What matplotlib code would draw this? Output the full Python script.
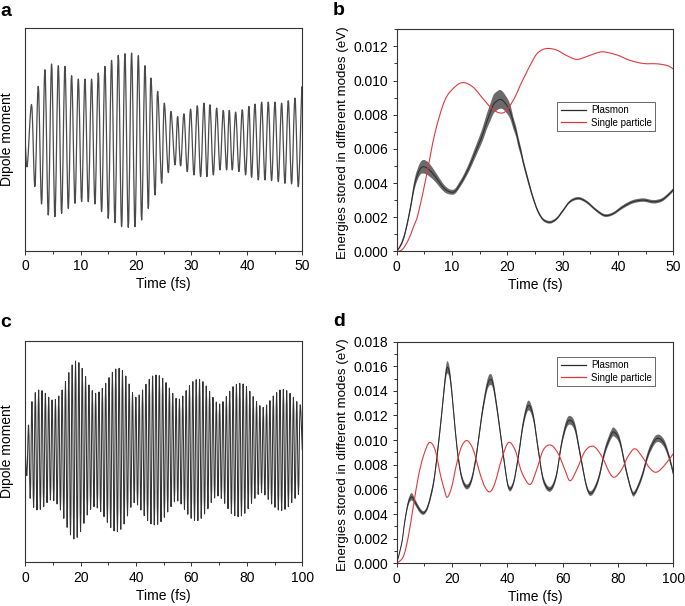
import numpy as np
import matplotlib
matplotlib.use("Agg")
import matplotlib.pyplot as plt
from matplotlib.ticker import MultipleLocator, FormatStrFormatter
from matplotlib.path import Path
from matplotlib.patches import PathPatch
from matplotlib.lines import Line2D

plt.rcParams['font.family'] = ['Liberation Sans', 'DejaVu Sans']

# ----------------------------
# Datos
# ----------------------------

# (a) momento dipolar, 0-50 fs: maximos y minimos de cada oscilacion
a_peak_t = [1.14, 2.35, 3.55, 4.75, 5.96, 7.16, 8.36, 9.57, 10.77, 11.97, 13.18, 14.38,
            15.58, 16.79, 17.99, 19.19, 20.40, 21.60, 22.68, 23.89, 25.09, 26.29, 27.50,
            28.64, 29.84, 31.05, 32.25, 33.33, 34.54, 35.74, 36.82, 37.97, 39.17, 40.37,
            41.46, 42.66, 43.86, 45.07, 46.27, 47.47, 48.68, 49.88]
a_peak_v = [1.05, 1.60, 2.10, 2.27, 2.22, 2.20, 1.92, 1.82, 1.82, 1.82, 2.00, 2.20,
            2.38, 2.53, 2.58, 2.60, 2.52, 2.22, 1.85, 1.45, 1.10, 0.85, 0.70,
            0.78, 0.92, 1.02, 1.10, 1.05, 0.95, 0.88, 0.88, 0.83, 0.90, 1.00,
            1.07, 1.13, 1.13, 1.13, 1.10, 1.17, 1.25, 1.40]
a_trough_t = [0.36, 1.74, 2.95, 4.15, 5.35, 6.56, 7.76, 8.97, 10.17, 11.37, 12.58, 13.78,
              14.98, 16.19, 17.39, 18.59, 19.80, 21.00, 22.20, 23.41, 24.61, 25.81, 27.02,
              28.04, 29.24, 30.45, 31.65, 32.79, 33.94, 35.14, 36.34, 37.36, 38.57, 39.77,
              40.85, 42.06, 43.26, 44.46, 45.67, 46.87, 48.07, 49.28]
a_trough_v = [-0.78, -1.40, -1.92, -2.25, -2.30, -2.20, -2.05, -1.90, -1.85, -1.85, -1.92, -2.15,
              -2.35, -2.48, -2.60, -2.62, -2.60, -2.40, -2.05, -1.65, -1.30, -0.98, -0.75,
              -0.78, -0.95, -1.05, -1.10, -1.10, -1.05, -0.90, -0.90, -0.90, -0.95, -1.05,
              -1.12, -1.20, -1.20, -1.22, -1.25, -1.30, -1.32, -1.40]
a_start = (0.0, -0.10)
a_end = (50.0, 1.35)

# (c) momento dipolar, 0-100 fs: amplitud de cada ciclo
c_first_peak = 1.2
c_period = 1.21
c_amp = [0.75, 1.45, 1.72, 1.80, 1.78, 1.70, 1.58, 1.50, 1.52, 1.62, 1.80, 2.05,
         2.32, 2.55, 2.67, 2.62, 2.45, 2.20, 1.95, 1.78, 1.70, 1.74, 1.85, 2.00,
         2.17, 2.33, 2.43, 2.45, 2.38, 2.22, 1.98, 1.72, 1.58, 1.65, 1.80, 1.97,
         2.12, 2.22, 2.25, 2.23, 2.15, 2.02, 1.86, 1.70, 1.55, 1.53, 1.62, 1.78,
         1.93, 2.05, 2.11, 2.12, 2.05, 1.92, 1.76, 1.58, 1.44, 1.38, 1.45, 1.60,
         1.76, 1.90, 1.97, 2.00, 1.98, 1.90, 1.76, 1.60, 1.45, 1.33, 1.28, 1.35,
         1.48, 1.62, 1.72, 1.80, 1.82, 1.78, 1.70, 1.58, 1.45, 1.33]

# (b) energias, 0-50 fs
b_sp_t = [0, 1.0, 2.1, 3.0, 3.9, 5.4, 6.9, 8.7, 10.5, 12.0, 13.8, 15.6, 17.2, 18.7, 19.9,
          21.4, 22.3, 23.2, 24.3, 25.3, 26.3, 27.4, 28.9, 30.7, 32.5, 34.3, 36.0, 37.4,
          39.8, 42.2, 44.6, 47.0, 48.9, 50.0]
b_sp_v = [0, 0.0001, 0.00066, 0.0014, 0.00222, 0.00446, 0.0069, 0.00884, 0.00962, 0.00988,
          0.00962, 0.00894, 0.00836, 0.0081, 0.00826, 0.00904, 0.0097, 0.0103, 0.0110,
          0.01155, 0.0118, 0.01188, 0.01179, 0.01147, 0.01124, 0.01140, 0.01160, 0.01168,
          0.01150, 0.01118, 0.01100, 0.01098, 0.01088, 0.01068]
b_pl_t = [0, 0.8, 1.5, 2.4, 3.3, 4.2, 4.9, 5.8, 6.9, 7.8, 8.7, 9.6, 10.5, 11.4, 12.3, 13.2,
          14.1, 15.0, 15.6, 16.3, 16.9, 17.5, 18.1, 18.7, 19.3, 20.2, 20.7, 21.1, 21.6, 22.0,
          22.5, 22.9, 23.8, 24.4, 25.0, 25.6, 26.5, 27.7, 28.9, 30.1, 31.3, 32.8, 34.3, 36.1,
          37.6, 39.1, 40.9, 42.7, 44.6, 46.4, 47.9, 49.1, 50.0]
b_pl_v = [0, 0.0004, 0.00105, 0.0024, 0.0040, 0.0048, 0.00495, 0.0048, 0.0044, 0.0040,
          0.00365, 0.00348, 0.0035, 0.0039, 0.0044, 0.0050, 0.0057, 0.0064, 0.0069, 0.0076,
          0.0081, 0.0086, 0.0088, 0.0089, 0.0088, 0.0084, 0.0080, 0.0075, 0.0070, 0.0064,
          0.0058, 0.0052, 0.0041, 0.0034, 0.0028, 0.0023, 0.00185, 0.0017, 0.0019, 0.0024,
          0.0029, 0.0031, 0.0029, 0.0024, 0.0021, 0.0022, 0.0026, 0.0029, 0.0030, 0.0029,
          0.0030, 0.0033, 0.0036]
b_pl_hw = [0, 0.0001, 0.00015, 0.0002, 0.0003, 0.00035, 0.0004, 0.00038, 0.0003, 0.00025,
           0.0002, 0.00015, 0.00015, 0.00018, 0.0002, 0.00025, 0.0003, 0.00035, 0.0004,
           0.00045, 0.0005, 0.00055, 0.00055, 0.00055, 0.0005, 0.00045, 0.0004, 0.00035,
           0.0003, 0.0003, 0.00025, 0.0002, 0.00018, 0.00015, 0.00012, 0.0001, 0.00008,
           0.00008, 0.00008, 0.00008, 0.00008, 0.00008, 0.00008, 0.00008, 0.00008, 0.00008,
           0.0001, 0.0001, 0.0001, 0.0001, 0.0001, 0.0001, 0.0001]

# (d) energias, 0-100 fs
d_sp_t = [0, 2.4, 4.2, 6.0, 7.8, 9.6, 11.8, 13.9, 15.7, 17.2, 18.3, 19.9, 21.7, 23.5, 25.5,
          27.7, 30.1, 31.9, 33.7, 35.5, 38.0, 40.4, 42.8, 45.2, 48.2, 50.6, 53.0, 55.7,
          58.4, 60.8, 62.7, 65.1, 68.1, 71.1, 74.1, 77.1, 78.9, 81.3, 83.7, 86.1, 88.6,
          91.6, 94.0, 97.0, 100.0]
d_sp_v = [0, 0.00054, 0.00217, 0.0046, 0.0070, 0.00866, 0.0098, 0.0092, 0.0073, 0.0060,
          0.00536, 0.0062, 0.0081, 0.0095, 0.00996, 0.0092, 0.0073, 0.0062, 0.0058, 0.0065,
          0.0085, 0.0098, 0.0092, 0.0074, 0.0064, 0.0076, 0.0092, 0.0096, 0.0089, 0.0076,
          0.0067, 0.0076, 0.0091, 0.0095, 0.0087, 0.0073, 0.0070, 0.0076, 0.0087, 0.0093,
          0.0087, 0.0077, 0.0074, 0.0080, 0.0089]
d_pl_t = [0, 1.8, 3.0, 4.2, 5.4, 6.6, 8.4, 9.9, 11.4, 13.3, 14.7, 16.3, 17.5, 18.3, 19.3,
          20.5, 21.9, 23.5, 25.3, 27.1, 28.9, 30.7, 32.5, 33.7, 34.9, 36.7, 38.6, 40.4,
          42.2, 44.0, 45.8, 47.6, 49.4, 51.2, 53.0, 55.4, 57.6, 59.6, 61.4, 62.9, 64.5,
          66.3, 68.7, 70.5, 72.9, 75.3, 77.7, 78.9, 80.7, 82.9, 84.9, 86.1, 88.6, 91.0,
          93.4, 95.2, 97.0, 98.8, 100.0]
d_pl_v = [0, 0.0016, 0.0035, 0.0049, 0.0054, 0.0050, 0.0043, 0.0041, 0.0047, 0.0065,
          0.0089, 0.0122, 0.0149, 0.0159, 0.0152, 0.0125, 0.0092, 0.0070, 0.0062, 0.0068,
          0.0089, 0.0119, 0.0142, 0.0149, 0.0145, 0.0119, 0.0087, 0.0062, 0.0065, 0.0087,
          0.0114, 0.0128, 0.0119, 0.0092, 0.0068, 0.0060, 0.0070, 0.0097, 0.0113, 0.0116,
          0.0110, 0.0089, 0.0062, 0.0057, 0.0068, 0.0091, 0.0105, 0.0106, 0.0099, 0.0076,
          0.0059, 0.0057, 0.0070, 0.0089, 0.0100, 0.0101, 0.0096, 0.0084, 0.0073]
d_pl_hw = [0, 0.0001, 0.0002, 0.00025, 0.0003, 0.00025, 0.0002, 0.00015, 0.0002, 0.0003,
           0.00035, 0.0004, 0.00045, 0.0005, 0.00045, 0.0004, 0.00035, 0.00025, 0.0002,
           0.00025, 0.0003, 0.00035, 0.0004, 0.00045, 0.0004, 0.00035, 0.0003, 0.0002,
           0.0002, 0.0003, 0.00035, 0.0004, 0.00035, 0.0003, 0.00025, 0.0002, 0.00025,
           0.0003, 0.00035, 0.00035, 0.00035, 0.0003, 0.0002, 0.0002, 0.00025, 0.0003,
           0.00035, 0.00035, 0.0003, 0.00025, 0.0002, 0.0002, 0.00025, 0.0003, 0.0003,
           0.0003, 0.0003, 0.00025, 0.00025]

BLACK = '#2a2a2a'
RED = '#e2383c'
FS = 10


# ----------------------------
# Funciones auxiliares
# ----------------------------

def smooth_verts(x, y):
    # curva Bezier (Catmull-Rom) que pasa por los puntos leidos
    x = np.asarray(x, float)
    y = np.asarray(y, float)
    xp = np.concatenate(([x[0]], x, [x[-1]]))
    yp = np.concatenate(([y[0]], y, [y[-1]]))
    verts = [(x[0], y[0])]
    codes = [Path.MOVETO]
    for i in range(len(x) - 1):
        c1 = (x[i] + (xp[i + 2] - xp[i]) / 6, y[i] + (yp[i + 2] - yp[i]) / 6)
        c2 = (x[i + 1] - (xp[i + 3] - xp[i + 1]) / 6, y[i + 1] - (yp[i + 3] - yp[i + 1]) / 6)
        verts += [c1, c2, (x[i + 1], y[i + 1])]
        codes += [Path.CURVE4] * 3
    return verts, codes


def smooth_line(ax, x, y, color, lw):
    verts, codes = smooth_verts(x, y)
    ax.add_patch(PathPatch(Path(verts, codes), fill=False, edgecolor=color, lw=lw,
                           capstyle='round', joinstyle='round'))


def smooth_band(ax, x, lo, hi, color):
    vu, cu = smooth_verts(x, hi)
    vl, cl = smooth_verts(x[::-1], lo[::-1])
    cl[0] = Path.LINETO
    verts = vu + vl + [vu[0]]
    codes = cu + cl + [Path.CLOSEPOLY]
    ax.add_patch(PathPatch(Path(verts, codes), facecolor=color, edgecolor='none'))


def style_axes(ax, xmax, xmajor, yaxis=True):
    for s in ax.spines.values():
        s.set_linewidth(0.8)
        s.set_color('#333333')
    ax.set_xlim(0, xmax)
    ax.xaxis.set_major_locator(MultipleLocator(xmajor))
    ax.xaxis.set_minor_locator(MultipleLocator(xmajor / 2))
    ax.tick_params(which='both', direction='out', top=False, right=False,
                   labelsize=FS, width=0.7, colors='#333333', labelcolor='black')
    ax.tick_params(which='major', length=3, pad=3)
    ax.tick_params(which='minor', length=2)
    if not yaxis:
        ax.tick_params(axis='y', which='both', left=False, labelleft=False)
    ax.set_xlabel('Time (fs)', fontsize=FS, labelpad=3)


fig = plt.figure(figsize=(6.85, 6.06), dpi=100)
ax_a = fig.add_axes([0.0369, 0.5863, 0.4044, 0.3675])
ax_b = fig.add_axes([0.5791, 0.5853, 0.4038, 0.3663])
ax_c = fig.add_axes([0.0369, 0.0721, 0.4044, 0.3652])
ax_d = fig.add_axes([0.5791, 0.0705, 0.4038, 0.3658])

# --- a ---
a_t = np.concatenate(([a_start[0]], a_peak_t, a_trough_t, [a_end[0]]))
a_v = np.concatenate(([a_start[1]], a_peak_v, a_trough_v, [a_end[1]]))
order = np.argsort(a_t)
smooth_line(ax_a, a_t[order], a_v[order], '#4a4a4a', 0.9)
ax_a.set_ylim(-3.32, 3.35)
style_axes(ax_a, 50, 10, yaxis=False)
ax_a.set_ylabel('Dipole moment', fontsize=FS)
ax_a.yaxis.set_label_coords(-0.041, 0.5)

# --- c ---
c_amp_arr = np.array(c_amp)
k = np.arange(len(c_amp_arr))
c_pk_t = c_first_peak + c_period * k
c_tr_t = c_pk_t - c_period / 2
c_t = np.concatenate(([0.0], c_tr_t, c_pk_t, [100.0]))
c_v = np.concatenate(([0.0], -c_amp_arr, c_amp_arr, [0.0]))
order = np.argsort(c_t)
smooth_line(ax_c, c_t[order], c_v[order], '#333333', 0.75)
ax_c.set_ylim(-3.37, 3.27)
style_axes(ax_c, 100, 20, yaxis=False)
ax_c.set_ylabel('Dipole moment', fontsize=FS)
ax_c.yaxis.set_label_coords(-0.041, 0.5)


def energy_panel(ax, pl_t, pl_v, pl_hw, sp_t, sp_v, xmax, xmajor, ymax, leg_y):
    pl_t = np.array(pl_t)
    pl_v = np.array(pl_v)
    pl_hw = np.array(pl_hw)
    smooth_band(ax, pl_t, pl_v - pl_hw, pl_v + pl_hw, '#6a6a6a')
    smooth_line(ax, pl_t, pl_v, BLACK, 0.7)
    smooth_line(ax, sp_t, sp_v, RED, 0.8)
    ax.set_ylim(0, ymax)
    style_axes(ax, xmax, xmajor)
    ax.yaxis.set_major_locator(MultipleLocator(0.002))
    ax.yaxis.set_minor_locator(MultipleLocator(0.001))
    ax.yaxis.set_major_formatter(FormatStrFormatter('%.3f'))
    ax.set_ylabel('Energies stored in different modes (eV)', fontsize=9.6)
    ax.yaxis.set_label_coords(-0.172, 0.49)
    handles = [Line2D([], [], color=BLACK, lw=0.9), Line2D([], [], color=RED, lw=0.9)]
    leg = ax.legend(handles, ['Plasmon', 'Single particle'], loc='upper right',
                    bbox_to_anchor=(0.934, leg_y), fontsize=7, frameon=True,
                    fancybox=False, borderpad=0.35, labelspacing=0.25,
                    handlelength=2.6, handletextpad=0.5, borderaxespad=0)
    leg.get_frame().set_edgecolor('#222222')
    leg.get_frame().set_linewidth(0.6)


energy_panel(ax_b, b_pl_t, b_pl_v, b_pl_hw, b_sp_t, b_sp_v, 50, 10, 0.013, 0.674)
energy_panel(ax_d, d_pl_t, d_pl_v, d_pl_hw, d_sp_t, d_sp_v, 100, 20, 0.018, 0.932)

# letras de los paneles
for x, y, s in [(0, 16, 'a'), (333, 15, 'b'), (0, 327, 'c'), (333, 326, 'd')]:
    fig.text(x / 685, 1 - y / 606, s, fontsize=14, fontweight='bold', ha='left', va='baseline')

fig.savefig('out.png', dpi=100)
plt.close(fig)
